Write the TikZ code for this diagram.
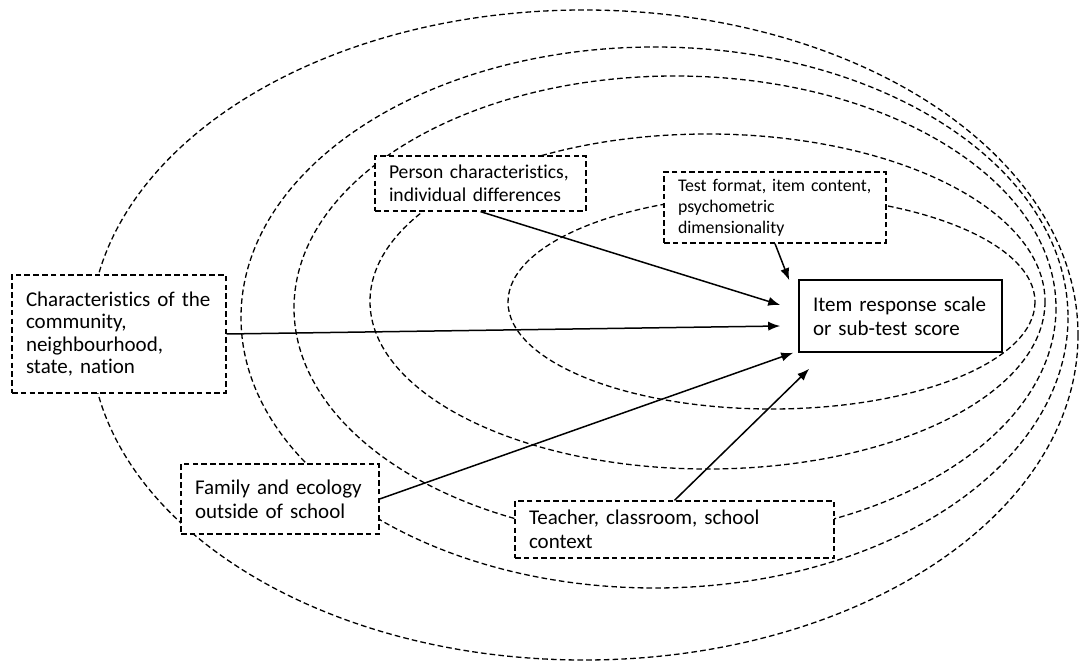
\documentclass[tikz,border=0pt]{standalone}
\usepackage{fontspec}
\setmainfont{Carlito}[Ligatures=NoCommon]
\usetikzlibrary{arrows.meta,calc}

\begin{document}
\begin{tikzpicture}[x=0.5pt,y=-0.5pt,
    ring/.style={line width=0.65pt,dash pattern=on 2.8pt off 1.6pt},
    factor/.style={draw,fill=white,line width=0.65pt,dash pattern=on 2.8pt off 1.6pt,
        align=left,inner xsep=7pt,inner ysep=3pt,font=\fontsize{10.5}{11.8}\selectfont},
    score/.style={draw,fill=white,line width=0.8pt,align=left,inner xsep=7pt,inner ysep=3pt,
        font=\fontsize{10.5}{12}\selectfont},
    link/.style={-{Latex[length=6pt,width=4.6pt]},line width=0.75pt}]
    \useasboundingbox (0,0) rectangle (1081,663);

    % nested contexts
    \draw[ring] (584,335) ellipse (494 and 325);
    \draw[ring] (654.5,317.5) ellipse (413.5 and 270.5);
    \draw[ring] (675,308) ellipse (381 and 232);
    \draw[ring] (707.5,301.5) ellipse (337.5 and 167.5);
    \draw[ring] (771.5,302) ellipse (263.5 and 107);

    \node[score, text width=87.5pt, minimum height=36pt] (item) at (900.5,316)
        {Item response scale\\or sub-test score};
    \node[factor, text width=93pt, minimum height=59pt, font=\fontsize{10.5}{11.2}\selectfont] (community) at (119,334)
        {Characteristics of the\\community,\\neighbourhood,\\state, nation};
    \node[factor, text width=91.5pt, minimum height=27.5pt, font=\fontsize{9.8}{11.6}\selectfont] (person) at (480.5,183.5)
        {Person characteristics,\\individual differences};
    \node[factor, text width=97pt, minimum height=35.5pt, font=\fontsize{8.9}{10.5}\selectfont] (test) at (775,207.5)
        {Test format, item content,\\psychometric\\dimensionality};
    \node[factor, text width=85pt, minimum height=35pt] (family) at (280,499)
        {Family and ecology\\outside of school};
    \node[factor, text width=145.5pt, minimum height=28.5pt] (teacher) at (674.5,529.5)
        {Teacher, classroom, school\\context};

    \draw[link] (person.south) -- ($(item.west)+(-18,-11)$);
    \draw[link] (community.east) -- ($(item.west)+(-18,10)$);
    \draw[link] (family.east) -- ($(item.south west)+(-5,0)$);
    \draw[link] (teacher.north) -- ($(item.south west)+(11,16)$);
    \draw[link] (test.south) -- ($(item.north west)+(-9,1)$);
\end{tikzpicture}
\end{document}
